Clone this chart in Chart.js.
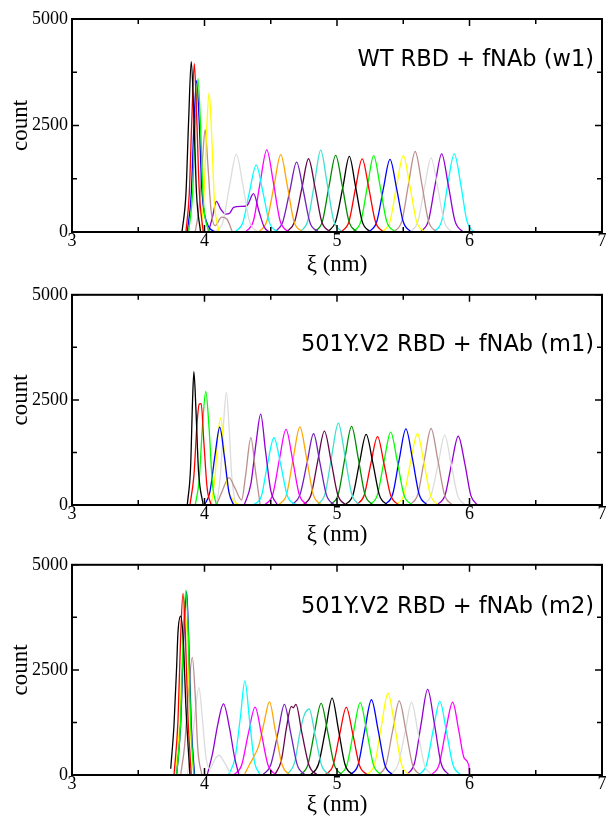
<!DOCTYPE html>
<html>
<head>
<meta charset="utf-8">
<script src="https://cdn.jsdelivr.net/npm/chart.js@4.4.1/dist/chart.umd.min.js"></script>
<style>
  body { margin: 0; background: #fff; }
  canvas { display: block; }
</style>
</head>
<body>
<canvas id="panel_w1" width="608" height="280"></canvas>
<canvas id="panel_m1" width="608" height="270"></canvas>
<canvas id="panel_m2" width="608" height="274"></canvas>
<script>
// histogram windows, each one a list of [xi (nm), count]

const w1Curves = [
    [[3.83,0],[3.86,900],[3.88,2600],[3.90,4000],[3.92,2700],[3.94,900],[3.97,0]],
    [[3.86,0],[3.885,900],[3.905,2700],[3.923,3950],[3.94,2800],[3.96,1000],[3.99,0]],
    [[3.88,0],[3.91,900],[3.93,2500],[3.951,3600],[3.97,2500],[3.99,800],[4.03,0]],
    [[3.87,0],[3.90,900],[3.92,2500],[3.94,3550],[3.96,2600],[3.98,1000],[4.02,200],[4.08,0]],
    [[3.97,0],[3.995,800],[4.015,2300],[4.035,3270],[4.055,2200],[4.075,700],[4.11,0]],
    [[3.93,0],[3.96,600],[3.985,1700],[4.005,2400],[4.025,1600],[4.05,500],[4.08,150],[4.13,350],[4.17,300],[4.21,0]],
    [[4.08,0],[4.14,250],[4.19,1100],[4.24,1820],[4.29,1100],[4.34,250],[4.40,0]],
    [[4.03,0],[4.06,350],[4.09,720],[4.12,550],[4.16,420],[4.19,440],[4.22,580],[4.28,600],[4.32,620],[4.37,900],[4.41,500],[4.45,120],[4.49,0]],
    [[4.23,0],[4.29,230],[4.34,950],[4.39,1570],[4.44,950],[4.49,220],[4.55,0]],
    [[4.31,0],[4.37,270],[4.42,1160],[4.47,1930],[4.52,1160],[4.57,270],[4.63,0]],
    [[4.41,0],[4.47,250],[4.525,1090],[4.575,1815],[4.625,1090],[4.675,250],[4.74,0]],
    [[4.53,0],[4.59,230],[4.645,980],[4.695,1640],[4.745,980],[4.795,230],[4.86,0]],
    [[4.62,0],[4.68,240],[4.735,1030],[4.785,1720],[4.835,1030],[4.885,240],[4.95,0]],
    [[4.72,0],[4.78,270],[4.83,1150],[4.877,1920],[4.925,1150],[4.975,270],[5.04,0]],
    [[4.83,0],[4.89,250],[4.94,1080],[4.99,1800],[5.04,1080],[5.09,250],[5.15,0]],
    [[4.93,0],[4.99,250],[5.045,1065],[5.093,1775],[5.14,1065],[5.19,250],[5.25,0]],
    [[5.03,0],[5.09,240],[5.14,1030],[5.19,1715],[5.24,1030],[5.29,240],[5.35,0]],
    [[5.12,0],[5.18,250],[5.23,1080],[5.277,1795],[5.325,1080],[5.375,250],[5.44,0]],
    [[5.24,0],[5.30,240],[5.35,1020],[5.40,1705],[5.45,1020],[5.50,240],[5.56,0]],
    [[5.34,0],[5.40,250],[5.45,1080],[5.50,1795],[5.55,1080],[5.60,250],[5.66,0]],
    [[5.43,0],[5.49,260],[5.54,1130],[5.59,1890],[5.64,1130],[5.69,260],[5.75,0]],
    [[5.55,0],[5.61,240],[5.66,1040],[5.71,1740],[5.76,1040],[5.81,240],[5.87,0]],
    [[5.63,0],[5.69,260],[5.74,1100],[5.79,1835],[5.84,1100],[5.89,260],[5.95,0]],
    [[5.73,0],[5.79,260],[5.835,1100],[5.885,1835],[5.935,1100],[5.98,260],[6.03,0]]
];

const m1Curves = [
    [[3.87,0],[3.895,900],[3.91,2500],[3.92,3170],[3.935,2300],[3.955,800],[3.99,0]],
    [[3.89,0],[3.92,700],[3.945,2000],[3.96,2400],[3.975,2410],[3.995,1500],[4.02,400],[4.05,0]],
    [[3.93,0],[3.96,600],[3.985,1900],[4.01,2700],[4.035,1800],[4.06,500],[4.09,0]],
    [[4.00,0],[4.04,300],[4.08,1200],[4.115,1850],[4.15,1150],[4.185,300],[4.22,0]],
    [[4.05,0],[4.08,700],[4.10,1600],[4.122,2070],[4.145,1400],[4.17,500],[4.21,150],[4.26,0]],
    [[4.09,0],[4.13,300],[4.185,650],[4.23,400],[4.28,120],[4.31,700],[4.35,1600],[4.385,800],[4.42,0]],
    [[4.09,0],[4.12,700],[4.145,2000],[4.165,2680],[4.185,1900],[4.205,700],[4.235,0]],
    [[4.30,0],[4.35,500],[4.39,1500],[4.424,2160],[4.46,1300],[4.50,350],[4.55,0]],
    [[4.37,0],[4.43,220],[4.475,960],[4.524,1600],[4.575,960],[4.625,220],[4.69,0]],
    [[4.455,0],[4.515,250],[4.565,1080],[4.615,1800],[4.665,1080],[4.715,250],[4.775,0]],
    [[4.56,0],[4.62,260],[4.67,1120],[4.72,1860],[4.77,1120],[4.82,260],[4.88,0]],
    [[4.66,0],[4.72,240],[4.775,1020],[4.823,1695],[4.87,1020],[4.92,240],[4.98,0]],
    [[4.745,0],[4.805,250],[4.855,1050],[4.905,1755],[4.955,1050],[5.005,250],[5.065,0]],
    [[4.85,0],[4.91,270],[4.96,1170],[5.01,1945],[5.06,1170],[5.11,270],[5.17,0]],
    [[4.95,0],[5.01,260],[5.06,1120],[5.11,1870],[5.16,1120],[5.21,260],[5.27,0]],
    [[5.06,0],[5.12,235],[5.17,1010],[5.22,1680],[5.27,1010],[5.32,235],[5.38,0]],
    [[5.145,0],[5.205,230],[5.255,975],[5.306,1625],[5.355,975],[5.405,230],[5.465,0]],
    [[5.245,0],[5.305,240],[5.355,1040],[5.405,1735],[5.455,1040],[5.505,240],[5.565,0]],
    [[5.36,0],[5.42,255],[5.47,1090],[5.52,1812],[5.57,1090],[5.62,255],[5.68,0]],
    [[5.445,0],[5.505,240],[5.555,1020],[5.607,1695],[5.655,1020],[5.705,240],[5.765,0]],
    [[5.55,0],[5.61,255],[5.66,1090],[5.71,1820],[5.76,1090],[5.81,255],[5.87,0]],
    [[5.65,0],[5.71,230],[5.765,1000],[5.813,1660],[5.86,1000],[5.91,230],[5.97,0]],
    [[5.755,0],[5.815,230],[5.865,980],[5.915,1635],[5.965,980],[6.01,230],[6.06,0]]
];

const m2Curves = [
    [[3.745,150],[3.77,1200],[3.79,2600],[3.80,3400],[3.82,3780],[3.84,3200],[3.86,1600],[3.89,0]],
    [[3.77,0],[3.80,1300],[3.82,3300],[3.838,4320],[3.855,3400],[3.875,1400],[3.90,0]],
    [[3.79,0],[3.82,1300],[3.84,3400],[3.86,4400],[3.878,3300],[3.895,1300],[3.92,0]],
    [[3.79,0],[3.82,1200],[3.845,3400],[3.865,4360],[3.88,3300],[3.90,1200],[3.925,0]],
    [[3.78,0],[3.81,1100],[3.835,3000],[3.855,3850],[3.875,2900],[3.895,1000],[3.92,0]],
    [[3.82,0],[3.85,700],[3.88,2000],[3.908,2800],[3.93,1900],[3.95,600],[3.98,0]],
    [[3.87,0],[3.90,600],[3.93,1500],[3.958,2080],[3.985,1300],[4.01,450],[4.04,150],[4.08,380],[4.11,470],[4.15,300],[4.20,0]],
    [[4.02,0],[4.06,500],[4.10,1200],[4.143,1690],[4.19,1100],[4.225,450],[4.26,0]],
    [[4.18,0],[4.23,400],[4.27,1350],[4.305,2240],[4.34,1300],[4.375,350],[4.42,0]],
    [[4.22,0],[4.28,230],[4.33,970],[4.382,1615],[4.43,970],[4.48,230],[4.54,0]],
    [[4.30,0],[4.34,250],[4.37,420],[4.41,700],[4.45,1250],[4.49,1740],[4.535,1050],[4.585,250],[4.64,0]],
    [[4.44,0],[4.50,240],[4.555,1010],[4.603,1680],[4.65,1010],[4.70,240],[4.76,0]],
    [[4.53,0],[4.58,350],[4.62,1150],[4.655,1630],[4.67,1600],[4.69,1680],[4.735,1000],[4.79,220],[4.85,0]],
    [[4.62,0],[4.68,300],[4.72,1000],[4.75,1400],[4.79,1570],[4.835,950],[4.885,220],[4.95,0]],
    [[4.72,0],[4.78,240],[4.83,1020],[4.88,1705],[4.93,1020],[4.98,240],[5.04,0]],
    [[4.80,0],[4.86,255],[4.915,1100],[4.963,1830],[5.01,1100],[5.06,255],[5.12,0]],
    [[4.91,0],[4.97,225],[5.02,965],[5.07,1610],[5.12,965],[5.17,225],[5.23,0]],
    [[5.015,0],[5.075,240],[5.125,1030],[5.175,1720],[5.225,1030],[5.275,240],[5.335,0]],
    [[5.10,0],[5.16,250],[5.21,1075],[5.26,1790],[5.31,1075],[5.36,250],[5.42,0]],
    [[5.225,0],[5.285,270],[5.335,1170],[5.385,1945],[5.435,1170],[5.485,270],[5.545,0]],
    [[5.31,0],[5.37,245],[5.42,1055],[5.47,1760],[5.52,1055],[5.57,245],[5.63,0]],
    [[5.40,0],[5.46,240],[5.515,1040],[5.563,1730],[5.61,1040],[5.66,240],[5.72,0]],
    [[5.525,0],[5.585,285],[5.635,1220],[5.684,2035],[5.735,1220],[5.785,285],[5.845,0]],
    [[5.615,0],[5.675,245],[5.725,1050],[5.776,1750],[5.825,1050],[5.875,245],[5.935,0]],
    [[5.71,0],[5.77,240],[5.82,1040],[5.873,1730],[5.92,1040],[5.96,400],[5.995,230],[6.0,0]]
];

const captions = ['WT RBD + fNAb (w1)', '501Y.V2 RBD + fNAb (m1)', '501Y.V2 RBD + fNAb (m2)'];

// xmgrace default colour cycle
const graceColors = ['#000000', '#ff0000', '#00ff00', '#0000ff', '#ffff00', '#bc8f8f', '#dcdcdc',
    '#9400d3', '#00ffff', '#ff00ff', '#ffa500', '#7221bc', '#670748', '#40e0d0', '#008b00'];

// frame, inward ticks (major long, minor short) and the caption in the corner
const gracePlot = {
    id: 'gracePlot',
    afterDatasetsDraw(chart, args, opts) {
        const { ctx, chartArea: a, scales: { x, y } } = chart;
        ctx.save();
        ctx.strokeStyle = '#000';
        ctx.lineWidth = 1.5;
        ctx.beginPath();
        x.ticks.forEach(t => {
            const px = x.getPixelForValue(t.value);
            const len = Number.isInteger(t.value) ? 7 : 5;
            ctx.moveTo(px, a.bottom); ctx.lineTo(px, a.bottom - len);
            ctx.moveTo(px, a.top); ctx.lineTo(px, a.top + len);
        });
        y.ticks.forEach(t => {
            const py = y.getPixelForValue(t.value);
            const len = t.value % 2500 === 0 ? 7 : 5;
            ctx.moveTo(a.left, py); ctx.lineTo(a.left + len, py);
            ctx.moveTo(a.right, py); ctx.lineTo(a.right - len, py);
        });
        ctx.stroke();
        ctx.lineWidth = 2;
        ctx.strokeRect(a.left, a.top, a.right - a.left, a.bottom - a.top);
        ctx.fillStyle = '#000';
        ctx.font = '22.5px "DejaVu Sans"';
        ctx.textAlign = 'right';
        ctx.textBaseline = 'middle';
        ctx.fillText(opts.text, a.right - 8, a.top + opts.dy);
        ctx.restore();
    }
};

const panels = [
    { id: 'panel_w1', curves: w1Curves, caption: captions[0], top: 19, axisH: 48, titlePad: 1, dy: 41.5 },
    { id: 'panel_m1', curves: m1Curves, caption: captions[1], top: 13, axisH: 45, titlePad: 1, dy: 50 },
    { id: 'panel_m2', curves: m2Curves, caption: captions[2], top: 13, axisH: 49, titlePad: 5, dy: 42 }
];

panels.forEach(p => {
    const ctx = document.getElementById(p.id).getContext('2d');
    new Chart(ctx, {
        type: 'line',
        data: {
            datasets: p.curves.map((pts, i) => ({
                data: pts,
                borderColor: graceColors[i % graceColors.length],
                borderWidth: 1.3,
                pointRadius: 0,
                fill: false,
                cubicInterpolationMode: 'monotone'
            }))
        },
        options: {
            responsive: false,
            animation: false,
            devicePixelRatio: 1,
            layout: { padding: { top: p.top, right: 6, left: 0, bottom: 0 } },
            plugins: {
                legend: { display: false },
                tooltip: { enabled: false },
                gracePlot: { text: p.caption, dy: p.dy }
            },
            scales: {
                x: {
                    type: 'linear',
                    min: 3,
                    max: 7,
                    grid: { display: false, drawTicks: false },
                    border: { display: false },
                    ticks: {
                        stepSize: 0.5,
                        autoSkip: false,
                        maxRotation: 0,
                        padding: 0,
                        color: '#000',
                        font: { family: 'Liberation Serif', size: 18, lineHeight: 1 },
                        callback: v => Number.isInteger(v) ? v : ''
                    },
                    title: {
                        display: true,
                        text: 'ξ (nm)',
                        color: '#000',
                        font: { family: 'Liberation Serif', size: 23, lineHeight: 1.2 },
                        padding: { top: 0, bottom: p.titlePad }
                    },
                    afterFit: s => { s.height = p.axisH; }
                },
                y: {
                    min: 0,
                    max: 5000,
                    grid: { display: false, drawTicks: false },
                    border: { display: false },
                    ticks: {
                        stepSize: 1250,
                        padding: 4,
                        color: '#000',
                        font: { family: 'Liberation Serif', size: 18 },
                        callback: v => v % 2500 === 0 ? v : ''
                    },
                    title: {
                        display: true,
                        text: 'count',
                        color: '#000',
                        font: { family: 'Liberation Serif', size: 23, lineHeight: 1 },
                        padding: { top: 9, bottom: 0 }
                    },
                    afterFit: s => { s.width = 72; }
                }
            }
        },
        plugins: [gracePlot]
    });
});
</script>
</body>
</html>
